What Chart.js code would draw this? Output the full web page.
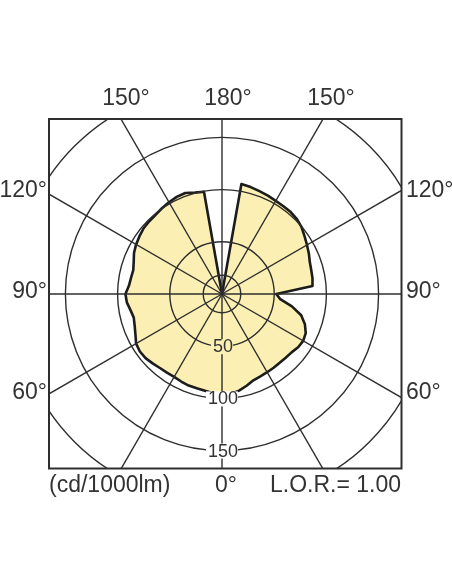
<!DOCTYPE html>
<html>
<head>
<meta charset="utf-8">
<script src="https://cdn.jsdelivr.net/npm/chart.js@4/dist/chart.umd.min.js"></script>
<style>
  html, body { margin: 0; padding: 0; background: #fff; overflow: hidden; }
  body { width: 452px; height: 584px; position: relative; }
  #wrap { position: absolute; left: -39px; top: 33px; width: 522px; height: 522px; }
</style>
</head>
<body>
<div id="wrap"><canvas id="polar"></canvas></div>
<script>
// angle around the diagram, clockwise from the top (180° at top, 0° at bottom)
const angles = [
  0, 5, 10, 15, 20, 25, 30, 35, 40, 45, 50, 55,
  60, 65, 70, 75, 80, 85, 90, 95, 100, 105, 110, 115,
  120, 125, 130, 135, 140, 145, 150, 155, 160, 165, 170, 175,
  180, 185, 190, 195, 200, 205, 210, 215, 220, 225, 230, 235,
  240, 245, 250, 255, 260, 265, 270, 275, 280, 285, 290, 295,
  300, 305, 310, 315, 320, 325, 330, 335, 340, 345, 350, 355
];

// luminous intensity, cd/1000lm
const intensity = [
  0, 0, 107, 106, 104.8, 104, 103, 102.6, 102.4, 101.5, 99.5, 96.5,
  94, 91.8, 89.5, 88.5, 88, 87, 52, 56, 68, 78.5, 84.5, 88.5,
  89.8, 89, 87, 86.3, 86, 86.2, 86.5, 87, 88, 91, 94, 96,
  97, 95.5, 94, 93.5, 93.3, 92.5, 91.7, 92, 92.5, 94, 95.6, 96,
  95, 91.5, 89, 87.5, 89, 91.5, 92.5, 89.5, 88.5, 88, 90, 93,
  95, 96.5, 98, 98.5, 99, 100.3, 101.5, 102.6, 103, 100.5, 99.5, 0
];

const ringValues = [0, 18, 50, 100, 150, 200];
const ringLabels = [50, 100, 150];

const topLabels = ['150°', '180°', '150°'];
const sideLabels = ['120°', '90°', '60°'];
const unitLabel = '(cd/1000lm)';
const zeroLabel = '0°';
const lorLabel = 'L.O.R.= 1.00';

const lineColor = '#2e2e2e';
const textColor = '#333';
const fillColor = '#fcefb4';

// frame of the diagram, canvas pixels
const box = { left: 88, top: 86, right: 440.5, bottom: 435.5 };

const framePlugin = {
  id: 'frame',
  beforeDraw(chart) {
    const ctx = chart.ctx;
    ctx.save();
    ctx.beginPath();
    ctx.rect(box.left, box.top, box.right - box.left, box.bottom - box.top);
    ctx.clip();
  },
  afterDraw(chart) {
    const ctx = chart.ctx;
    ctx.restore();
    const r = chart.scales.r;

    // ring values along the 0° spoke
    ctx.save();
    ctx.font = '18px "Liberation Sans", Arial, sans-serif';
    ctx.textAlign = 'center';
    ctx.textBaseline = 'middle';
    ringLabels.forEach((v, i) => {
      const y = r.yCenter + r.getDistanceFromCenterForValue(v);
      const w = ctx.measureText(String(v)).width + 2;
      ctx.fillStyle = i === 0 ? fillColor : '#fff';
      ctx.fillRect(r.xCenter - w / 2, y - 7, w, 15);
      ctx.fillStyle = textColor;
      ctx.fillText(String(v), r.xCenter + 1, y + 1);
    });
    ctx.restore();

    // frame
    ctx.save();
    ctx.strokeStyle = lineColor;
    ctx.lineWidth = 2;
    ctx.strokeRect(box.left, box.top, box.right - box.left, box.bottom - box.top);
    ctx.restore();

    // angle labels
    ctx.save();
    ctx.fillStyle = textColor;
    ctx.font = '23px "Liberation Sans", Arial, sans-serif';
    ctx.textBaseline = 'alphabetic';
    ctx.textAlign = 'center';
    ctx.fillText(topLabels[0], 165, 72);
    ctx.fillText(topLabels[1], 267, 72);
    ctx.fillText(topLabels[2], 370, 72);
    const sideY = [163.5, 264.5, 366];
    ctx.textAlign = 'right';
    sideLabels.forEach((t, i) => ctx.fillText(t, 86, sideY[i]));
    ctx.textAlign = 'left';
    sideLabels.forEach((t, i) => ctx.fillText(t, 445, sideY[i]));

    ctx.textAlign = 'left';
    ctx.fillText(unitLabel, 88, 458.5);
    ctx.textAlign = 'center';
    ctx.fillText(zeroLabel, 265, 458.5);
    ctx.textAlign = 'right';
    ctx.fillText(lorLabel, 440, 458.5);
    ctx.restore();
  }
};

const ctx = document.getElementById('polar').getContext('2d');

new Chart(ctx, {
  type: 'radar',
  data: {
    labels: angles,
    datasets: [{
      data: intensity,
      borderColor: '#1c1c1c',
      borderWidth: 2.6,
      backgroundColor: fillColor,
      fill: true,
      pointRadius: 0,
      tension: 0
    }]
  },
  options: {
    responsive: true,
    maintainAspectRatio: false,
    devicePixelRatio: 1,
    animation: false,
    layout: { padding: 0 },
    elements: { line: { borderJoinStyle: 'round' } },
    plugins: {
      legend: { display: false },
      tooltip: { enabled: false }
    },
    scales: {
      r: {
        min: 0,
        max: 250,
        startAngle: 0,
        afterBuildTicks: (scale) => {
          scale.ticks = ringValues.map(v => ({ value: v }));
        },
        ticks: { display: false, z: 1 },
        pointLabels: { display: false },
        grid: {
          circular: true,
          color: lineColor,
          lineWidth: 1.4,
          z: 1
        },
        angleLines: {
          color: (c) => (c.index % 6 === 0 ? lineColor : 'transparent'),
          lineWidth: 1.4
        }
      }
    }
  },
  plugins: [framePlugin]
});
</script>
</body>
</html>
